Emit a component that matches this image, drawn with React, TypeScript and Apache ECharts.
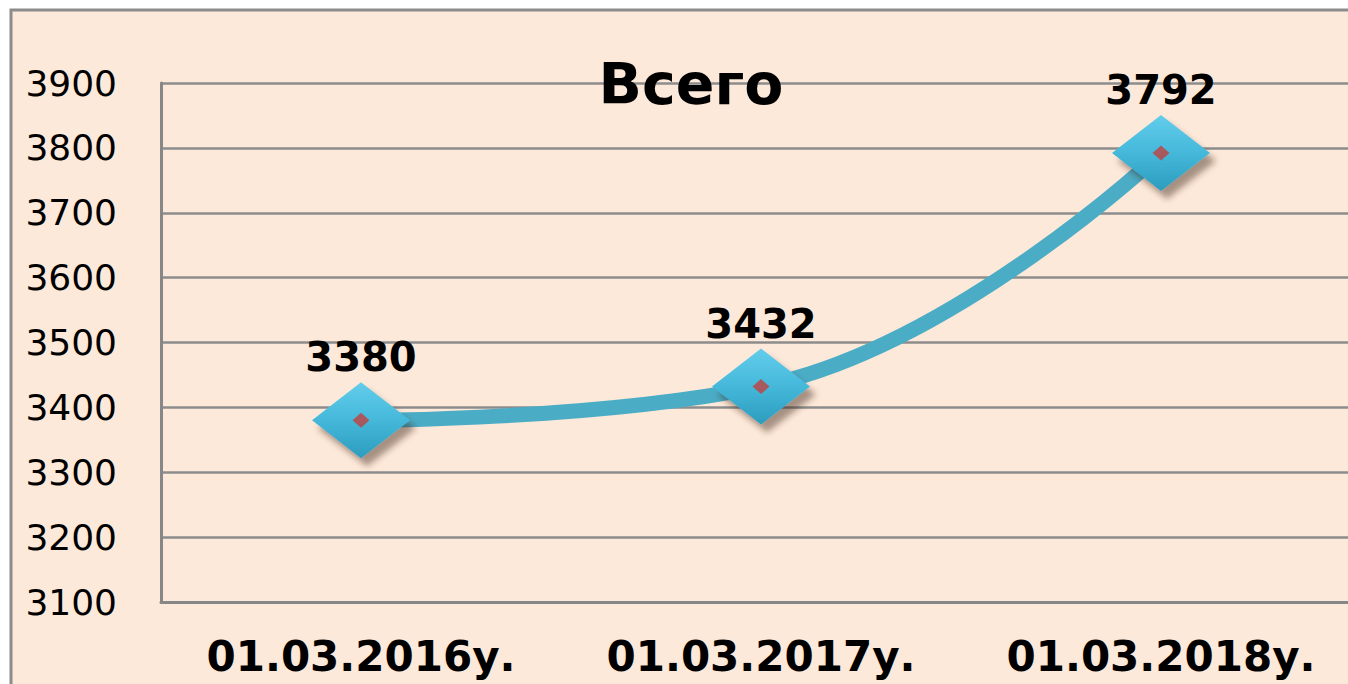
import React, { useEffect, useRef } from "react";
import * as echarts from "echarts";

const categories = ["01.03.2016у.", "01.03.2017у.", "01.03.2018у."];
const values = [3380, 3432, 3792];
const yMin = 3100;
const yMax = 3900;
const yStep = 100;
const titleText = "Всего";

export default function App() {
  const ref = useRef<HTMLDivElement>(null);
  useEffect(() => {
    if (!ref.current) return;
    const chart = echarts.init(ref.current, undefined, { renderer: "svg" });
    chart.setOption({
      animation: false,
      backgroundColor: "#ffffff",
      title: {
        text: titleText,
        left: 686,
        top: 50,
        textAlign: "center",
        textStyle: {
          fontFamily: "DejaVu Sans",
          fontWeight: "bold",
          fontSize: 57,
          color: "#000000",
        },
      },
      graphic: [
        {
          type: "rect",
          z: -10,
          silent: true,
          shape: { x: 11, y: 10, width: 1380, height: 700 },
          style: { fill: "#FDE9D9", stroke: "#8C8C8C", lineWidth: 3 },
        },
      ],
      grid: { left: 161, top: 83, width: 1200, bottom: 82 },
      xAxis: {
        type: "category",
        data: categories,
        boundaryGap: true,
        axisLine: { show: true, lineStyle: { color: "#878787", width: 3 } },
        axisTick: { show: false },
        axisLabel: {
          interval: 0,
          hideOverlap: false,
          margin: 33,
          fontFamily: "DejaVu Sans",
          fontWeight: "bold",
          fontSize: 42,
          lineHeight: 42,
          color: "#000000",
        },
        splitLine: { show: false },
      },
      yAxis: {
        type: "value",
        min: yMin,
        max: yMax,
        interval: yStep,
        axisLine: { show: true, lineStyle: { color: "#878787", width: 3 } },
        axisTick: { show: false },
        axisLabel: {
          margin: 44,
          fontFamily: "DejaVu Sans",
          fontSize: 36,
          color: "#000000",
          formatter: (v: number) => String(v),
        },
        splitLine: { show: true, lineStyle: { color: "#8C8C8C", width: 2.5 } },
      },
      series: [
        {
          type: "line",
          data: values,
          smooth: 0.45,
          lineStyle: { color: "#4BACC6", width: 15 },
          symbol: "diamond",
          symbolSize: [98, 76],
          itemStyle: {
            color: new echarts.graphic.LinearGradient(0, 0, 0, 1, [
              { offset: 0, color: "#63CDEB" },
              { offset: 0.5, color: "#45B8DA" },
              { offset: 1, color: "#2C9CBD" },
            ]),
            shadowColor: "rgba(60,40,30,0.45)",
            shadowBlur: 6,
            shadowOffsetX: 6,
            shadowOffsetY: 8,
          },
          label: {
            show: true,
            position: "top",
            distance: 5,
            fontFamily: "DejaVu Sans",
            fontWeight: "bold",
            fontSize: 40,
            color: "#000000",
          },
          z: 2,
        },
        {
          type: "scatter",
          data: values,
          symbol: "diamond",
          symbolSize: [17, 15],
          itemStyle: { color: "#C0413E" },
          z: 3,
          silent: true,
        },
      ],
    });
    return () => chart.dispose();
  }, []);
  return (
    <div
      style={{
        position: "fixed",
        left: 0,
        top: 0,
        width: 1348,
        height: 684,
        overflow: "hidden",
      }}
    >
      <div ref={ref} style={{ width: 1366, height: 684 }} />
    </div>
  );
}
